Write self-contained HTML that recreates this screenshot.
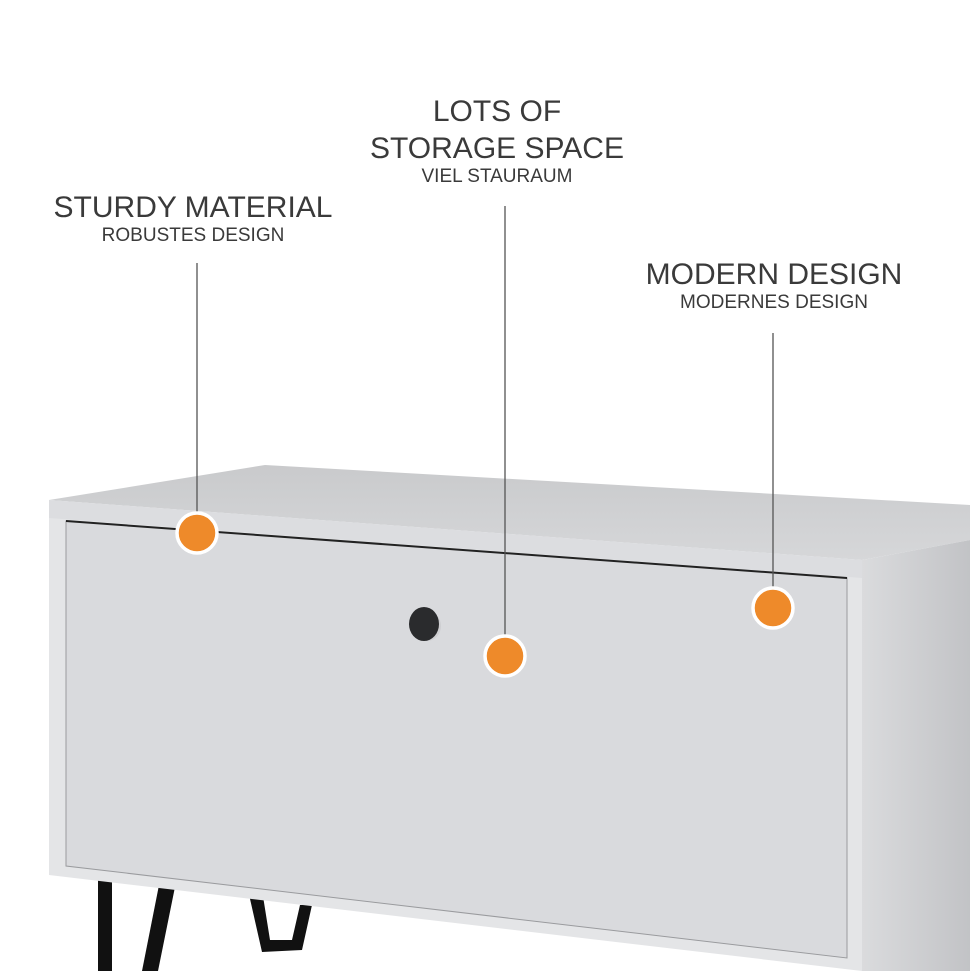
<!DOCTYPE html>
<html><head><style>
html,body{margin:0;padding:0;background:#fff;width:970px;height:971px;overflow:hidden}
svg{display:block}
text{font-family:"Liberation Sans",sans-serif;fill:#3a3a3a;text-anchor:middle}
</style></head><body>
<svg width="970" height="971" viewBox="0 0 970 971">
<defs>
<linearGradient id="side" x1="0" x2="1"><stop offset="0" stop-color="#dadbdd"/><stop offset="1" stop-color="#c2c3c6"/></linearGradient>
<linearGradient id="top" x1="0" x2="0" y1="0" y2="1"><stop offset="0" stop-color="#c9cacc"/><stop offset="1" stop-color="#d6d7d9"/></linearGradient>
</defs>
<!-- legs -->
<polygon points="98,880 112,880 112,971 98,971" fill="#111"/>
<polygon points="160,880 176,882 158,971 142,971" fill="#111"/>
<polygon points="248,890 262,890 270,940 292,940 300,905 312,905 302,950 262,952" fill="#111"/>
<polygon points="925,955 940,955 946,971 930,971" fill="#111"/>
<!-- top face -->
<polygon points="49,500 265,465 970,505 970,540 862,560" fill="url(#top)"/>
<!-- side face -->
<polygon points="862,560 970,540 970,971 862,971" fill="url(#side)"/>
<!-- front face -->
<polygon points="49,500 862,560 862,971 49,875" fill="#e4e5e7"/>
<polygon points="49,500 862,560 862,578 49,518" fill="#dcdde0"/>
<!-- door -->
<polygon points="66,521 847,578 847,958 66,866" fill="#d9dadd" stroke="#9a9b9e" stroke-width="1"/>
<line x1="66" y1="521" x2="847" y2="578" stroke="#222" stroke-width="2"/>
<!-- knob -->
<ellipse cx="427" cy="626" rx="14" ry="15" fill="#c6c7ca" opacity="0.6"/>
<ellipse cx="424" cy="624" rx="15" ry="17" fill="#2a2b2d"/>
<!-- lines -->
<line x1="197" y1="263" x2="197" y2="514" stroke="#555" stroke-width="1.3"/>
<line x1="505" y1="206" x2="505" y2="636" stroke="#555" stroke-width="1.3"/>
<line x1="773" y1="333" x2="773" y2="588" stroke="#555" stroke-width="1.3"/>
<!-- dots -->
<g fill="#ee8a2a" stroke="#fff" stroke-width="3.5">
<circle cx="197" cy="533" r="20"/>
<circle cx="505" cy="656" r="20"/>
<circle cx="773" cy="608" r="20"/>
</g>
<!-- labels -->
<text x="193" y="217" font-size="30">STURDY MATERIAL</text>
<text x="193" y="241" font-size="19">ROBUSTES DESIGN</text>
<text x="497" y="121" font-size="30">LOTS OF</text>
<text x="497" y="158" font-size="30">STORAGE SPACE</text>
<text x="497" y="182" font-size="19">VIEL STAURAUM</text>
<text x="774" y="284" font-size="30">MODERN DESIGN</text>
<text x="774" y="308" font-size="19">MODERNES DESIGN</text>
</svg>
</body></html>
